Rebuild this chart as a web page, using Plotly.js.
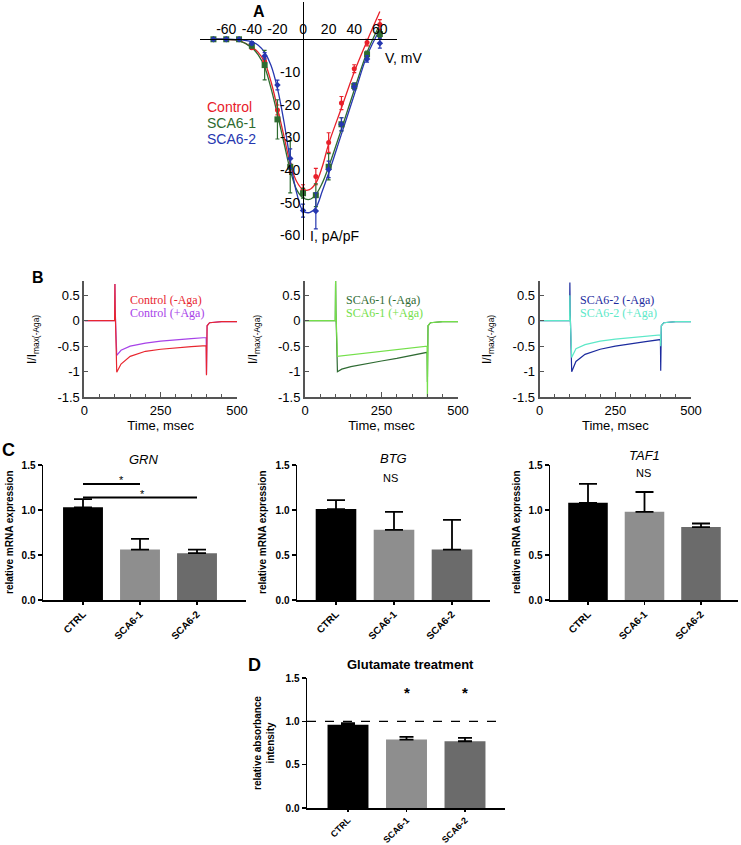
<!DOCTYPE html>
<html><head><meta charset="utf-8">
<script src="https://cdn.plot.ly/plotly-3.0.1.min.js"></script>
<style>html,body{margin:0;padding:0;background:#fff}#g{width:741px;height:845px}</style>
</head><body><div id="g"></div>
<script>
// ---------- Panel A: I-V data ----------
const voltages = [-70,-60,-50,-40,-30,-20,-10,0,10,20,30,40,50,60];
const ivControl = [0,0,0,-2.6,-6.8,-21.6,-38.6,-46,-42,-31.6,-19.5,-9,-1,4.5];
const ivControlErr = [0.3,0.3,0.3,0.5,1,1.5,2,1.5,2.5,3,2,1.2,1,1.5];
const ivSca1 = [0,0,0,-2,-7.9,-24.5,-39,-47.1,-47.7,-39,-26,-14.3,-4.6,1.6];
const ivSca1Err = [0.3,0.3,0.3,0.5,4.5,6,8,1.5,3.5,4,2,1,1,1];
const ivSca2 = [0,0,0,-1.2,-5.1,-14,-36.5,-52.4,-52.5,-39.8,-26,-14.5,-6,-1.2];
const ivSca2Err = [0.3,0.3,0.3,0.5,1,1.5,3,2,5.5,2.5,2,1,1,1.5];
const fitV = [-70,-60,-50,-40,-35,-30,-25,-20,-15,-10,-5,0,5,10,15,20,30,40,50,60];
const fitControl = [0,-0.05,-0.4,-2.4,-4,-7,-13,-21,-29.5,-38,-43.5,-46,-46,-44,-39,-32,-21,-10,-0.5,8.5];
const fitSca1 = [0,-0.05,-0.4,-2.6,-4.8,-8.5,-15,-23,-31.5,-40,-46,-48.5,-49,-47.5,-44,-39,-27.5,-15.5,-4,4.5];
const fitSca2 = [0,0,-0.1,-0.8,-1.8,-4,-8,-15,-25,-37,-47,-52.5,-53,-51.5,-46.5,-41,-29,-17,-5,3];
const ivXTicks = [-60,-40,-20,0,20,40,60];
const ivXTickText = ['-60','-40','-20','0','20','40','60'];
const ivYTicks = [-60,-50,-40,-30,-20,-10,10];
const ivYTickText = ['-60','-50','-40','-30','-20','-10','10'];

// ---------- Panel B: current traces ----------
const traceTime = [0,99,100,101,106,120,150,200,250,300,350,399,400,402,410,450,500];
const ctrlMinusAga = [0,0,0.72,0.2,-1.01,-0.85,-0.7,-0.6,-0.56,-0.53,-0.51,-0.49,-1.07,-0.1,-0.04,-0.02,-0.02];
const ctrlPlusAga  = [0,0,0.72,0.2,-0.68,-0.58,-0.5,-0.44,-0.4,-0.37,-0.35,-0.33,-1.05,-0.1,-0.04,-0.02,-0.02];
const sca1MinusAga = [0,0,0.8,0.2,-1.0,-0.95,-0.9,-0.84,-0.79,-0.74,-0.68,-0.62,-1.2,-0.1,-0.04,-0.02,-0.02];
const sca1PlusAga  = [0,0,0.85,0.2,-0.7,-0.69,-0.67,-0.63,-0.6,-0.57,-0.53,-0.5,-1.6,-0.1,-0.04,-0.02,-0.02];
const sca2MinusAga = [0,0,0.75,0.2,-1.0,-0.8,-0.66,-0.56,-0.5,-0.45,-0.41,-0.37,-0.98,-0.1,-0.04,-0.02,-0.02];
const sca2PlusAga  = [0,0,0.5,0.1,-0.72,-0.55,-0.47,-0.4,-0.36,-0.33,-0.3,-0.28,-0.5,-0.1,-0.04,-0.02,-0.02];
const bYTicks = [-1.5,-1,-0.5,0,0.5];
const bYTickText = ['-1.5','-1','-0.5','0','0.5'];
const bXTicks = [0,250,500];

// ---------- Panel C / D: bars ----------
const groups = ['CTRL','SCA6-1','SCA6-2'];
const grnMean = [1.03,0.56,0.52];
const grnErr  = [0.09,0.12,0.04];
const btgMean = [1.01,0.78,0.56];
const btgErr  = [0.1,0.2,0.33];
const taf1Mean = [1.08,0.98,0.81];
const taf1Err  = [0.21,0.22,0.04];
const gluMean = [0.96,0.79,0.77];
const gluErr  = [0.02,0.03,0.04];
const barColors = ['#000000','#8e8e8e','#6b6b6b'];

const W = 741, H = 845;
const dx = p => p / W;
const dy = p => 1 - p / H;
const AR = 'Arial, Liberation Sans, sans-serif';
const SERIF = 'Liberation Serif, Times New Roman, serif';

const cRed = '#e8202a', cGreen = '#2e6b30', cBlue = '#2637b0';
const traces = [];

[[fitControl, cRed],[fitSca1, cGreen],[fitSca2, cBlue]].forEach(([ys,c]) => {
  traces.push({x: fitV, y: ys, xaxis:'x', yaxis:'y', mode:'lines', line:{color:c, width:1.3, shape:'spline', smoothing:1}, hoverinfo:'skip'});
});
[[ivControl, ivControlErr, cRed, 'circle', 5],[ivSca1, ivSca1Err, cGreen, 'square', 6],[ivSca2, ivSca2Err, cBlue, 'diamond', 5]].forEach(([ys,e,c,s,sz]) => {
  traces.push({x: voltages, y: ys, xaxis:'x', yaxis:'y', mode:'markers', marker:{color:c, symbol:s, size:sz},
    error_y:{type:'data', array:e, color:c, thickness:1.2, width:2}});
});

const bSets = [
  ['x2','y2', ctrlMinusAga, '#e8262f', ctrlPlusAga, '#a742e8'],
  ['x3','y3', sca1MinusAga, '#2f6b33', sca1PlusAga, '#74e04a'],
  ['x4','y4', sca2MinusAga, '#1c2b9e', sca2PlusAga, '#5de8c8'],
];
bSets.forEach(([xa,ya,minus,cm,plus,cp]) => {
  if (xa === 'x2') {
    traces.push({x: traceTime, y: plus, xaxis:xa, yaxis:ya, mode:'lines', line:{color:cp, width:1.2}});
    traces.push({x: traceTime, y: minus, xaxis:xa, yaxis:ya, mode:'lines', line:{color:cm, width:1.2}});
  } else {
    traces.push({x: traceTime, y: minus, xaxis:xa, yaxis:ya, mode:'lines', line:{color:cm, width:1.2}});
    traces.push({x: traceTime, y: plus, xaxis:xa, yaxis:ya, mode:'lines', line:{color:cp, width:1.2}});
  }
});

const catIdx = [0,1,2];
[['x5','y5',grnMean,grnErr,9],['x6','y6',btgMean,btgErr,9],['x7','y7',taf1Mean,taf1Err,9],['x8','y8',gluMean,gluErr,7]].forEach(([xa,ya,m,e,cw]) => {
  traces.push({type:'bar', x: catIdx, y: m, xaxis:xa, yaxis:ya, width:0.7,
    marker:{color: barColors, line:{width:0}},
    error_y:{type:'data', symmetric:false, array:e, arrayminus:[0,0,0], color:'#000', thickness:1.8, width:cw}});
});

const layout = {
  width: W, height: H, margin:{l:0,r:0,t:0,b:0}, paper_bgcolor:'#fff', plot_bgcolor:'rgba(0,0,0,0)',
  showlegend:false, font:{family:AR, color:'#000'},
  xaxis:{domain:[dx(200),dx(397)], range:[-80.5,73.4], anchor:'free', position:dy(39.3), side:'top',
    showline:true, linecolor:'#000', linewidth:1, showgrid:false, zeroline:false, ticks:'',
    tickvals:ivXTicks, ticktext:ivXTickText, tickfont:{size:14, family:AR, color:'#000'}},
  yaxis:{domain:[dy(240),dy(2)], range:[-61.4,11.4], anchor:'free', position:dx(303), side:'left',
    showline:true, linecolor:'#000', linewidth:1, showgrid:false, zeroline:false, ticks:'',
    tickvals:ivYTicks, ticktext:ivYTickText, tickfont:{size:14, family:AR, color:'#000'}},
  shapes:[], annotations:[]
};

const bX = [[84.4,237],[305,458],[539.6,691]];
['2','3','4'].forEach((n,i) => {
  layout['xaxis'+n] = {domain:[dx(bX[i][0]),dx(bX[i][1])], range:[0,500], anchor:'y'+n,
    showline:true, linecolor:'#555', linewidth:2, showgrid:false, zeroline:false,
    ticks:'inside', ticklen:5, tickcolor:'#555', tickwidth:1.5, tickvals:bXTicks,
    minor:{dtick:50, ticks:'inside', ticklen:3, tickcolor:'#555', tickwidth:1},
    tickfont:{size:13, family:AR, color:'#000'}, title:{text:'Time, msec', font:{size:13, family:AR, color:'#000'}, standoff:4}};
  layout['yaxis'+n] = {domain:[dy(397.2),dy(280.9)], range:[-1.5,0.78], anchor:'x'+n,
    showline:true, linecolor:'#555', linewidth:2, showgrid:false, zeroline:false,
    ticks:'inside', ticklen:4, tickcolor:'#555', tickvals:bYTicks, ticktext:bYTickText,
    tickfont:{size:13, family:AR, color:'#000'}};
});

const cfg = [
  ['5', 43, 246, 83, 57, 600, 465, 10, 3],
  ['6', 297, 490, 336, 58, 600, 465, 10, 3],
  ['7', 550, 738, 588, 56.5, 600, 465, 10, 3],
  ['8', 307, 505, 348, 58.5, 808, 678, 9, 2],
];
cfg.forEach(([n,l,r,c0,step,y0,y15,fs,tl]) => {
  layout['xaxis'+n] = {domain:[dx(l),dx(r)], range:[(l-c0)/step,(r-c0)/step], anchor:'y'+n,
    showline:true, linecolor:'#000', linewidth:1.5, showgrid:false, zeroline:false,
    ticks:'outside', ticklen:tl, tickwidth:1.5, tickcolor:'#000', tickvals:catIdx, ticktext:groups, tickangle:-45,
    tickfont:{size:fs, family:AR, weight:'bold', color:'#000'}};
  layout['yaxis'+n] = {domain:[dy(y0),dy(y15)], range:[0,1.5], anchor:'x'+n,
    showline:true, linecolor:'#000', linewidth:1.5, showgrid:false, zeroline:false,
    ticks:'outside', ticklen:4, tickwidth:1.5, tickcolor:'#000', tickvals:[0,0.5,1,1.5], tickformat:'.1f',
    tickfont:{size:10, family:AR, weight:'bold', color:'#000'}};
});

const A = layout.annotations;
const txt = (px,py,text,opt={}) => {
  const o = Object.assign({xref:'paper',yref:'paper',x:dx(px),y:dy(py),text,showarrow:false,
    xanchor:'center',yanchor:'middle'},opt);
  o.font = Object.assign({family:AR,size:12,color:'#000'}, opt.font||{});
  A.push(o);
};

txt(259,12,'A',{font:{size:16,weight:'bold'}});
txt(38,277,'B',{font:{size:16,weight:'bold'}});
txt(8,450,'C',{font:{size:18,weight:'bold'}});
txt(255,665,'D',{font:{size:18,weight:'bold'}});

txt(205,107,'Control',{xanchor:'left',font:{size:14,color:cRed}});
txt(205,123,'SCA6-1',{xanchor:'left',font:{size:14,color:cGreen}});
txt(205,139,'SCA6-2',{xanchor:'left',font:{size:14,color:cBlue}});
txt(383,58,'V, mV',{xanchor:'left',font:{size:14}});
txt(308,236,'I, pA/pF',{xanchor:'left',font:{size:14}});

const leg = [[128,'Control (-Aga)','#e8262f','Control (+Aga)','#a742e8'],[344,'SCA6-1 (-Aga)','#2f6b33','SCA6-1 (+Aga)','#74e04a'],[578,'SCA6-2 (-Aga)','#1c2b9e','SCA6-2 (+Aga)','#5de8c8']];
leg.forEach(([x,t1,c1,t2,c2]) => {
  txt(x,300,t1,{xanchor:'left',font:{family:SERIF,size:12,color:c1}});
  txt(x,313,t2,{xanchor:'left',font:{family:SERIF,size:12,color:c2}});
});
[33,254,488].forEach(x => txt(x,340,'I/I<sub>max(-Aga)</sub>',{textangle:-90,font:{size:12}}));

txt(144,459,'GRN',{font:{size:13,style:'italic'}});
txt(393,458,'BTG',{font:{size:13,style:'italic'}});
txt(644,455,'TAF1',{font:{size:13,style:'italic'}});
txt(390,478,'NS',{font:{size:11}});
txt(643,473,'NS',{font:{size:11}});
[9,262,516].forEach(x => txt(x,532,'relative mRNA expression',{textangle:-90,font:{size:10,weight:'bold'}}));
txt(264,743,'relative absorbance<br>intensity',{textangle:-90,font:{size:10,weight:'bold'}});
txt(410,664,'Glutamate treatment',{font:{size:13,weight:'bold'}});

layout.shapes.push({type:'line',xref:'x5',yref:'y5',x0:0,x1:1,y0:1.29,y1:1.29,line:{color:'#000',width:2}});
layout.shapes.push({type:'line',xref:'x5',yref:'y5',x0:0,x1:2,y0:1.14,y1:1.14,line:{color:'#000',width:2}});
A.push({xref:'x5',yref:'y5',x:0.68,y:1.33,text:'*',showarrow:false,font:{family:AR,size:11,color:'#000'}});
A.push({xref:'x5',yref:'y5',x:1.04,y:1.18,text:'*',showarrow:false,font:{family:AR,size:11,color:'#000'}});
A.push({xref:'x8',yref:'y8',x:1,y:1.33,text:'*',showarrow:false,font:{family:AR,size:15,weight:'bold',color:'#000'}});
A.push({xref:'x8',yref:'y8',x:2,y:1.33,text:'*',showarrow:false,font:{family:AR,size:15,weight:'bold',color:'#000'}});
layout.shapes.push({type:'line',xref:'x8 domain',yref:'y8',x0:0,x1:1,y0:1,y1:1,line:{color:'#000',width:1.3,dash:'dash'}});

Plotly.newPlot('g', traces, layout, {staticPlot:true, displayModeBar:false});
</script></body></html>
